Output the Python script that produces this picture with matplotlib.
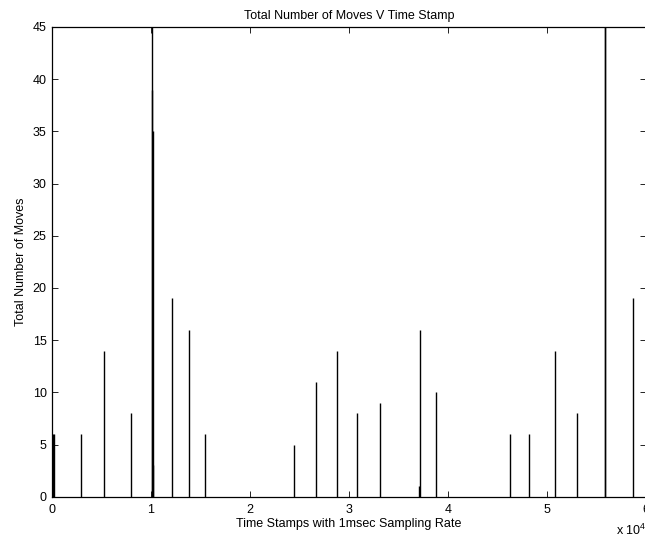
import numpy as np
import matplotlib
matplotlib.use('Agg')
import matplotlib.pyplot as plt

plt.rcParams['font.family'] = ['Liberation Sans', 'DejaVu Sans']
plt.rcParams['mathtext.fontset'] = 'custom'
plt.rcParams['mathtext.rm'] = 'Liberation Sans'

# time stamps (msec) and number of moves at each stamp
time_stamps = [150, 250, 2980, 5330, 8020, 10160, 10180, 10200, 10270,
               12190, 13870, 15520, 24470, 26690, 28810, 30830, 33120,
               37120, 37150, 38770, 46270, 48210, 50810, 53030, 55830,
               55880, 58710]
num_moves = [6, 6, 6, 14, 8, 45, 39, 35, 3,
             19, 16, 6, 5, 11, 14, 8, 9,
             1, 16, 10, 6, 6, 14, 8, 45,
             45, 19]

x_ticks = [0, 10000, 20000, 30000, 40000, 50000, 60000]
x_tick_labels = ['0', '1', '2', '3', '4', '5', '6']
y_ticks = [0, 5, 10, 15, 20, 25, 30, 35, 40, 45]

fs = 9

fig = plt.figure(figsize=(6.45, 5.41), dpi=100)
ax = fig.add_axes([51.5/645, 1 - 496.7/541, (646 - 51.5)/645, (496.7 - 27)/541])

ax.vlines(time_stamps, 0, num_moves, colors='k', linewidth=1.0)

ax.set_xlim(0, 60000)
ax.set_ylim(0, 45)
ax.set_xticks(x_ticks)
ax.set_xticklabels(x_tick_labels)
ax.set_yticks(y_ticks)

for s in ax.spines.values():
    s.set_linewidth(0.9)
ax.tick_params(direction='in', top=True, right=True, length=4.3, width=0.6,
               labelsize=fs)
ax.tick_params(axis='x', pad=5.5)
ax.tick_params(axis='y', pad=3.5)

ax.set_title('Total Number of Moves V Time Stamp', fontsize=fs, pad=6)
ax.set_xlabel('Time Stamps with 1msec Sampling Rate', fontsize=fs, labelpad=1)
ax.set_ylabel('Total Number of Moves', fontsize=fs, labelpad=4)

fig.text(616/645, 1 - 535/541, r'x 10$^{\mathrm{4}}$', fontsize=fs, va='baseline')

fig.savefig('out.png', dpi=100)
